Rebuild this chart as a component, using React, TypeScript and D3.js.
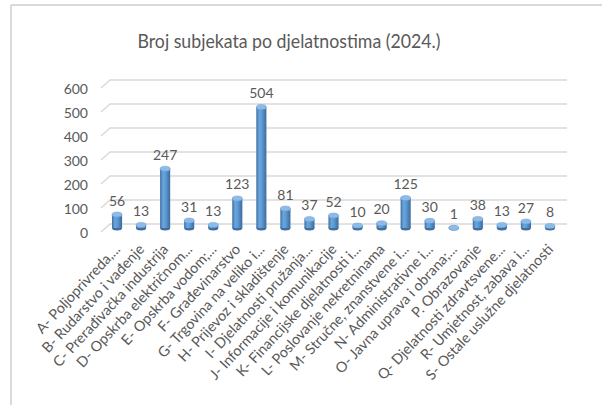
import React from "react";
import * as d3 from "d3";

const categories = [
  "A- Poljoprivreda,...",
  "B- Rudarstvo i vađenje",
  "C- Prerađivačka industrija",
  "D- Opskrba električnom...",
  "E- Opskrba vodom;...",
  "F- Građevinarstvo",
  "G- Trgovina na veliko i...",
  "H- Prijevoz i skladištenje",
  "I- Djelatnosti pružanja...",
  "J- Informacije i komunikacije",
  "K- Financijske djelatnosti i...",
  "L- Poslovanje nekretninama",
  "M- Stručne, znanstvene i...",
  "N- Administrativne i...",
  "O- Javna uprava i obrana;...",
  "P. Obrazovanje",
  "Q- Djelatnosti zdravtsvene...",
  "R- Umjetnost, zabava i...",
  "S- Ostale uslužne djelatnosti",
];
const values = [56, 13, 247, 31, 13, 123, 504, 81, 37, 52, 10, 20, 125, 30, 1, 38, 13, 27, 8];
const yTicks = [0, 100, 200, 300, 400, 500, 600];
const title = "Broj subjekata po djelatnostima (2024.)";

const W = 602;
const H = 405;
const FONT = "Lato, 'Open Sans', sans-serif";
const TXT = "#595959";

export default function App() {
  const x = d3.scaleBand<string>().domain(categories).range([105, 562]).paddingInner(0.58).paddingOuter(0.29);
  const y = d3.scaleLinear().domain([0, 600]).range([228, 84]);
  const bw = x.bandwidth();
  const ry = 2.5;
  const gridRight = 567;

  return (
    <svg width={W} height={H} style={{ position: "absolute", left: 0, top: 0, background: "#fff" }}>
      <defs>
        <linearGradient id="cyl" x1="0" x2="1" y1="0" y2="0">
          <stop offset="0" stopColor="#3f6fa0" />
          <stop offset="0.3" stopColor="#6aa6de" />
          <stop offset="0.55" stopColor="#5d9ad3" />
          <stop offset="1" stopColor="#3b6a9a" />
        </linearGradient>
      </defs>
      <rect x={0} y={0} width={W} height={H} fill="#fff" />
      <line x1={11} y1={5} x2={W} y2={5} stroke="#d9d9d9" strokeWidth={2} />
      <line x1={11} y1={5} x2={11} y2={H} stroke="#d9d9d9" strokeWidth={2} />
      <text
        x={289}
        y={48}
        textAnchor="middle"
        fontFamily={FONT}
        fontSize={20}
        fill={TXT}
        textLength={303}
        lengthAdjust="spacingAndGlyphs"
      >
        {title}
      </text>
      {yTicks.map((t) => (
        <g key={t}>
          <polyline
            points={`${101},${y(t) + 4} ${110},${y(t) - 4} ${gridRight},${y(t) - 4}`}
            fill="none"
            stroke="#d9d9d9"
            strokeWidth={1.5}
          />
          <text x={88} y={y(t) + 10} textAnchor="end" fontFamily={FONT} fontSize={14} fill={TXT}>
            {t}
          </text>
        </g>
      ))}
      {categories.map((c, i) => {
        const x0 = x(c)!;
        const cx = x0 + bw / 2;
        const top = y(values[i]);
        const bottom = y(0);
        return (
          <g key={c}>
            <ellipse cx={cx} cy={bottom} rx={bw / 2} ry={ry} fill="#3f6fa0" />
            <rect x={x0} y={top} width={bw} height={Math.max(0, bottom - top)} fill="url(#cyl)" />
            <ellipse cx={cx} cy={top} rx={bw / 2} ry={ry} fill="#8dbbe8" stroke="#6a9fd2" strokeWidth={0.5} />
            <text x={cx} y={top - 9} textAnchor="middle" fontFamily={FONT} fontSize={14} fill={TXT}>
              {values[i]}
            </text>
            <text
              transform={`translate(${cx + 4},${250}) rotate(-47)`}
              textAnchor="end"
              fontFamily={FONT}
              fontSize={14.4}
              fill={TXT}
            >
              {c}
            </text>
          </g>
        );
      })}
    </svg>
  );
}
